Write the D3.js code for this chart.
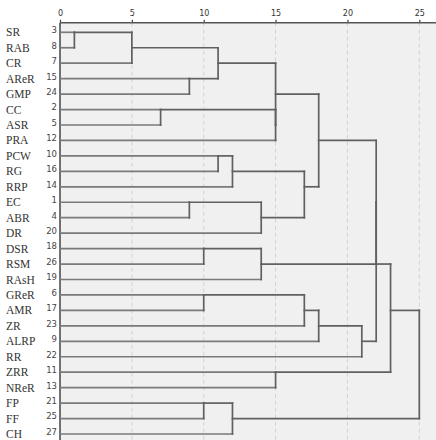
<!DOCTYPE html>
<html>
<head>
<meta charset="utf-8">
<script src="https://cdn.jsdelivr.net/npm/d3@7"></script>
<style>
  html, body { margin: 0; padding: 0; background: #fff; }
  svg { display: block; }
</style>
</head>
<body>
<svg id="chart" width="436" height="440"></svg>
<script>
// Case labels, top to bottom, and their case numbers
const caseLabels = ["SR","RAB","CR","AReR","GMP","CC","ASR","PRA","PCW","RG","RRP","EC","ABR","DR",
  "DSR","RSM","RAsH","GReR","AMR","ZR","ALRP","RR","ZRR","NReR","FP","FF","CH"];
const caseNumbers = [3,8,7,15,24,2,5,12,10,16,14,1,4,20,18,26,19,6,17,23,9,22,11,13,21,25,27];

// Agglomeration steps: [clusterA, clusterB, rescaled distance]
// indices 0..26 are cases, 27+ are clusters formed by earlier steps
const mergeSteps = [
  [0, 1, 1],     // 27
  [27, 2, 5],    // 28
  [3, 4, 9],     // 29
  [28, 29, 11],  // 30
  [5, 6, 7],     // 31
  [31, 7, 15],   // 32
  [30, 32, 15],  // 33
  [8, 9, 11],    // 34
  [34, 10, 12],  // 35
  [11, 12, 9],   // 36
  [36, 13, 14],  // 37
  [35, 37, 17],  // 38
  [33, 38, 18],  // 39
  [14, 15, 10],  // 40
  [40, 16, 14],  // 41
  [17, 18, 10],  // 42
  [42, 19, 17],  // 43
  [43, 20, 18],  // 44
  [44, 21, 21],  // 45
  [39, 41, 22],  // 46
  [46, 45, 22],  // 47
  [22, 23, 15],  // 48
  [47, 48, 23],  // 49
  [24, 25, 10],  // 50
  [50, 26, 12],  // 51
  [49, 51, 25]   // 52
];
const axisTicks = [0, 5, 10, 15, 20, 25];

const svg = d3.select("#chart");
const W = 436, H = 440;
const plotLeft = 60, axisY = 22.7;

const x = d3.scaleLinear().domain([0, 25]).range([plotLeft, 419.3]);
const y = d3.scaleLinear().domain([0, caseLabels.length - 1]).range([32.3, 434]);

// plot background
svg.append("rect")
  .attr("x", plotLeft).attr("y", axisY)
  .attr("width", W - plotLeft).attr("height", H - axisY)
  .attr("fill", "#f0f0f0");

// dashed reference lines
svg.append("g").selectAll("line")
  .data(axisTicks.filter(d => d > 0))
  .join("line")
  .attr("x1", d => x(d)).attr("x2", d => x(d))
  .attr("y1", axisY).attr("y2", H)
  .attr("stroke", "#d2d2d2").attr("stroke-width", 1)
  .attr("stroke-dasharray", "4,3");

// top axis
const axisTop = d3.axisTop(x).tickValues(axisTicks).tickSize(3).tickSizeOuter(0).tickFormat(d3.format("d"));
const gAxis = svg.append("g").attr("transform", `translate(0,${axisY})`).call(axisTop);
gAxis.select(".domain").remove();
gAxis.selectAll(".tick line").attr("stroke", "#444").attr("stroke-width", 1.2);
gAxis.selectAll(".tick text")
  .attr("fill", "#333").attr("font-family", "DejaVu Sans, sans-serif").attr("font-size", 8)
  .attr("dy", "-0.1em");
svg.append("line")
  .attr("x1", plotLeft).attr("x2", W).attr("y1", axisY).attr("y2", axisY)
  .attr("stroke", "#555").attr("stroke-width", 1.5);
svg.append("line")
  .attr("x1", plotLeft).attr("x2", plotLeft).attr("y1", axisY).attr("y2", H)
  .attr("stroke", "#444").attr("stroke-width", 1.5);

// case labels and numbers
const rows = svg.append("g");
rows.selectAll("text.name")
  .data(caseLabels)
  .join("text")
  .attr("class", "name")
  .attr("x", 6).attr("y", (d, i) => y(i))
  .attr("dy", "0.35em")
  .attr("font-family", "Liberation Serif, DejaVu Serif, serif")
  .attr("font-size", 11.5)
  .attr("fill", "#333")
  .text(d => d);
rows.selectAll("text.num")
  .data(caseNumbers)
  .join("text")
  .attr("class", "num")
  .attr("x", 57).attr("y", (d, i) => y(i))
  .attr("dy", "0.1em")
  .attr("text-anchor", "end")
  .attr("font-family", "DejaVu Sans, sans-serif")
  .attr("font-size", 8.5)
  .attr("fill", "#444")
  .text(d => d);

// dendrogram layout: each node's row is snapped to the row midway between its children
const n = caseLabels.length;
const nodeRow = caseLabels.map((d, i) => i);
const nodeHeight = caseLabels.map(() => 0);
const parentHeight = [];
mergeSteps.forEach(([a, b, h], k) => {
  const id = n + k;
  nodeRow[id] = Math.floor((nodeRow[a] + nodeRow[b]) / 2);
  nodeHeight[id] = h;
  parentHeight[a] = h;
  parentHeight[b] = h;
});

const segs = [];
nodeRow.forEach((r, id) => {
  if (parentHeight[id] !== undefined) {
    segs.push({x1: nodeHeight[id], x2: parentHeight[id], y1: r, y2: r, leaf: id < n});
  }
});
mergeSteps.forEach(([a, b, h]) => {
  segs.push({x1: h, x2: h, y1: nodeRow[a], y2: nodeRow[b], leaf: false});
});

svg.append("g")
  .attr("stroke-linecap", "square")
  .selectAll("line")
  .data(segs)
  .join("line")
  .attr("x1", d => x(d.x1)).attr("x2", d => x(d.x2))
  .attr("y1", d => y(d.y1)).attr("y2", d => y(d.y2))
  .attr("stroke", d => d.leaf ? "#7a7a7a" : "#606060")
  .attr("stroke-width", 1.7);
</script>
</body>
</html>
